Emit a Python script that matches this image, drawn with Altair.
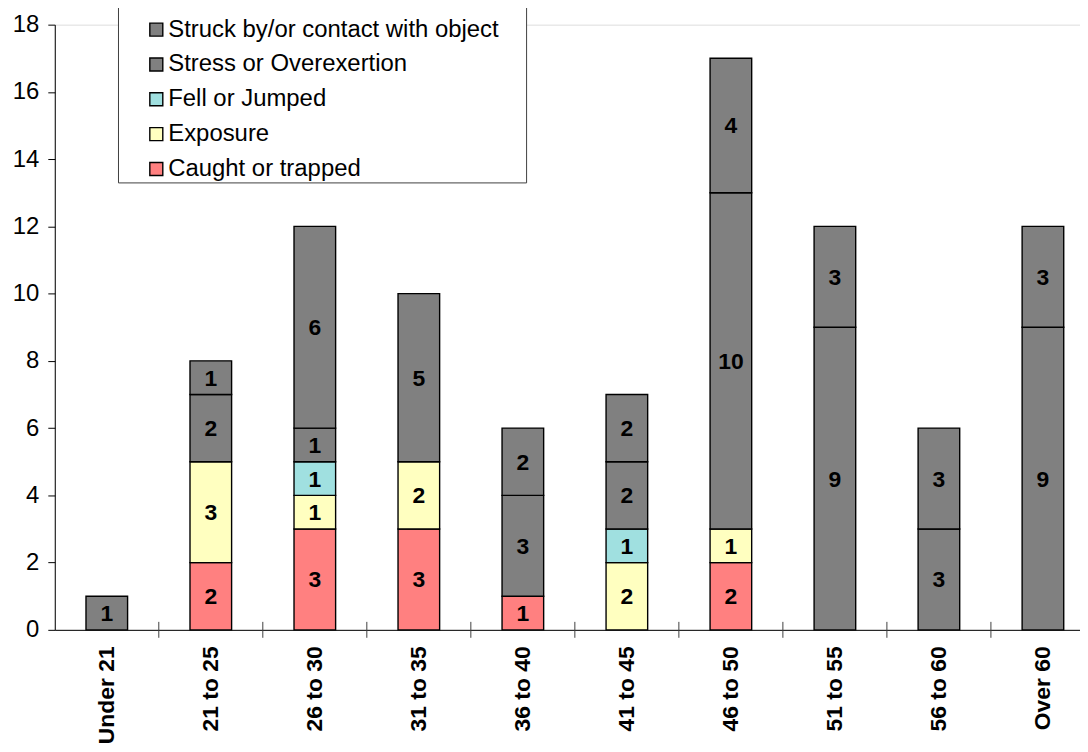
import altair as alt
import pandas as pd

ages = ["Under 21", "21 to 25", "26 to 30", "31 to 35", "36 to 40",
        "41 to 45", "46 to 50", "51 to 55", "56 to 60", "Over 60"]
causes = ["Caught or trapped", "Exposure", "Fell or Jumped",
          "Stress or Overexertion", "Struck by/or contact with object"]
caught = [0, 2, 3, 3, 1, 0, 2, 0, 0, 0]
exposure = [0, 3, 1, 2, 0, 2, 1, 0, 0, 0]
fell = [0, 0, 1, 0, 0, 1, 0, 0, 0, 0]
stress = [1, 2, 1, 0, 3, 2, 10, 9, 3, 9]
struck = [0, 1, 6, 5, 2, 2, 4, 3, 3, 3]
colors = ["#FF8080", "#FFFFC0", "#A0E0E0", "#808080", "#808080"]

series = [caught, exposure, fell, stress, struck]
rows = []
for ci, (cause, vals) in enumerate(zip(causes, series)):
    for a, v in zip(ages, vals):
        rows.append({"age": a, "cause": cause, "rank": ci, "value": v})
df = pd.DataFrame(rows)
df = df[df["value"] > 0]

FONT = "Liberation Sans"

x_enc = alt.X("age:N", sort=ages,
              scale=alt.Scale(paddingInner=0.6, paddingOuter=0.3),
              axis=alt.Axis(title=None, labelAngle=-90, labelFontSize=23,
                            labelFontWeight="bold", labelFont=FONT,
                            labelColor="black", ticks=False, labelPadding=16,
                            domainColor="black", domainWidth=1))

# legend frame (decoration only)
frame = alt.Chart(pd.DataFrame({"f": [0]})).mark_rect(
    fill="white", stroke="#404040", strokeWidth=1).encode(
    x=alt.value(64), x2=alt.value(474),
    y=alt.value(-18), y2=alt.value(159),
)

base = alt.Chart(df)

bars = base.mark_bar(stroke="black", strokeWidth=1.4).encode(
    x=x_enc,
    y=alt.Y("sum(value):Q", stack="zero",
            scale=alt.Scale(domain=[0, 18], nice=False),
            axis=alt.Axis(title=None, values=list(range(0, 19, 2)),
                          labelFontSize=24, labelFont=FONT, labelColor="black",
                          tickColor="black", tickSize=7, labelPadding=9,
                          domainColor="black", grid=False)),
    color=alt.Color("cause:N", sort=list(reversed(causes)),
                    scale=alt.Scale(domain=list(reversed(causes)),
                                    range=list(reversed(colors))),
                    legend=alt.Legend(
                        title=None, orient="none", legendX=90, legendY=-7,
                        labelFontSize=24, labelFont=FONT, labelColor="black",
                        labelLimit=0,
                        symbolType="square", symbolSize=170,
                        symbolStrokeColor="black", symbolStrokeWidth=1.4,
                        symbolOpacity=1,
                        rowPadding=11, padding=0, symbolOffset=0,
                        labelOffset=0)),
    order=alt.Order("rank:Q", sort="ascending"),
)

labels = base.transform_stack(
    stack="value", as_=["y0", "y1"], groupby=["age"],
    sort=[alt.SortField("rank", order="ascending")]
).transform_calculate(
    mid="(datum.y0 + datum.y1) / 2"
).mark_text(font=FONT, fontSize=23, fontWeight="bold", color="black",
            baseline="middle", dy=1).encode(
    x=alt.X("age:N", sort=ages),
    y=alt.Y("mid:Q"),
    text=alt.Text("value:Q"),
)

tick_df = pd.DataFrame({"age": ages[1:]})
ticks = alt.Chart(tick_df).mark_rule(color="#404040", strokeWidth=1,
                                     xOffset=-52.25).encode(
    x=alt.X("age:N", sort=ages),
    y=alt.value(600),
    y2=alt.value(616),
)

chart = alt.layer(frame, bars, labels, ticks).properties(
    width=1045, height=608,
    autosize=alt.AutoSizeParams(type="none"),
    padding={"left": 47, "top": 15, "right": -15, "bottom": 120},
).configure_view(stroke=None).configure(background="white")

chart.save("out.html", embed_options={"renderer": "svg", "actions": False})
